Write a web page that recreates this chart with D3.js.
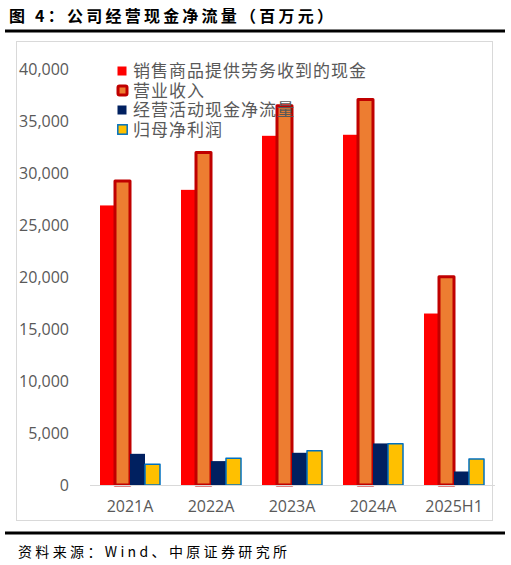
<!DOCTYPE html>
<html><head><meta charset="utf-8">
<script src="https://cdn.jsdelivr.net/npm/d3@7"></script>
<style>body{margin:0;background:#fff}svg{display:block}</style>
</head><body>
<svg id="c" width="511" height="565"></svg>
<script>
const categories = ["2021A","2022A","2023A","2024A","2025H1"];
const seriesNames = ["销售商品提供劳务收到的现金","营业收入","经营活动现金净流量","归母净利润"];
const salesCash = [26900, 28400, 33600, 33700, 16500];
const revenue = [29250, 32000, 36500, 37100, 20050];
const operatingCF = [3000, 2300, 3100, 4000, 1300];
const netProfit = [2000, 2570, 3300, 3970, 2500];
const yTicks = [0,5000,10000,15000,20000,25000,30000,35000,40000];

const seriesValues = [salesCash, revenue, operatingCF, netProfit];
const styles = [
  {fill:"#FF0000", stroke:"none", sw:0},
  {fill:"#ED7D31", stroke:"#C00000", sw:3},
  {fill:"#002060", stroke:"none", sw:0},
  {fill:"#FFC000", stroke:"#0070C0", sw:1.5}
];

const svg = d3.select("#c");
const cjk = "'Noto Sans CJK SC','Noto Sans',sans-serif";
const latin = "'Open Sans','Noto Sans',sans-serif";
const grey = "#595959";

// title
svg.append("text").attr("x",9).attr("y",22).attr("font-family",cjk).attr("font-weight","bold")
  .attr("font-size",16).attr("fill","#000").attr("textLength",324).attr("lengthAdjust","spacing")
  .text("图 4：公司经营现金净流量（百万元）");
svg.append("line").attr("x1",5).attr("x2",505).attr("y1",31).attr("y2",31).attr("stroke","#000").attr("stroke-width",3);

// frame
svg.append("rect").attr("x",16.5).attr("y",41.5).attr("width",476).attr("height",479)
  .attr("fill","none").attr("stroke","#D9D9D9").attr("stroke-width",1);

const x0 = d3.scaleBand().domain(categories).range([89.5, 494.5]).padding(0);
const groupW = 60;
const x1 = d3.scaleBand().domain(d3.range(4))
  .range([(x0.bandwidth()-groupW)/2, (x0.bandwidth()+groupW)/2]).padding(0);
const y = d3.scaleLinear().domain([0,40000]).range([485, 69.3]);

// y axis labels
const yAxis = d3.axisLeft(y).tickValues(yTicks).tickFormat(d3.format(",")).tickSize(0).tickPadding(0);
const ga = svg.append("g").attr("transform","translate(69,0)").call(yAxis);
ga.select(".domain").remove();
ga.selectAll("text").attr("font-family",latin).attr("font-size",16).attr("fill",grey);

// bars
seriesValues.forEach((vals, si) => {
  const st = styles[si];
  svg.append("g").selectAll("rect").data(vals).join("rect")
    .attr("x",(d,i)=>x0(categories[i])+x1(si))
    .attr("y",d=>y(d))
    .attr("width",x1.bandwidth())
    .attr("height",d=>y(0)-y(d))
    .attr("fill",st.fill)
    .attr("stroke",st.stroke)
    .attr("stroke-width",st.sw)
    .attr("stroke-linejoin","round");
});

// x axis
const xAxis = d3.axisBottom(x0).tickSize(0).tickPadding(16);
const gx = svg.append("g").attr("transform","translate(0,485)").call(xAxis);
gx.select(".domain").attr("stroke","#D9D9D9").attr("stroke-width",1.2);
gx.selectAll("text").attr("font-family",latin).attr("font-size",16).attr("fill",grey);

// legend
const legY = [71, 90.5, 110, 129.5];
const lg = svg.append("g");
seriesNames.forEach((n, i) => {
  const st = styles[i];
  if (i===1) {
    lg.append("rect").attr("x",118).attr("y",legY[i]-4.5).attr("width",9).attr("height",9)
      .attr("fill",st.fill).attr("stroke",st.stroke).attr("stroke-width",3).attr("rx",1.5);
  } else if (i===3) {
    lg.append("rect").attr("x",117.8).attr("y",legY[i]-4.7).attr("width",9.4).attr("height",9.4)
      .attr("fill",st.fill).attr("stroke",st.stroke).attr("stroke-width",1.5);
  } else {
    lg.append("rect").attr("x",117.5).attr("y",legY[i]-4.5).attr("width",9).attr("height",9)
      .attr("fill",st.fill);
  }
  lg.append("text").attr("x",133).attr("y",legY[i]).attr("dy","0.36em")
    .attr("font-family",cjk).attr("font-size",17).attr("letter-spacing",1)
    .attr("fill",grey).text(n);
});

// footer
svg.append("line").attr("x1",5).attr("x2",505).attr("y1",533).attr("y2",533).attr("stroke","#000").attr("stroke-width",3);
svg.append("text").attr("x",18).attr("y",557).attr("font-family",cjk)
  .attr("font-size",14).attr("fill","#000").attr("textLength",269).attr("lengthAdjust","spacing")
  .text("资料来源：Wind、中原证券研究所");
</script>
</body></html>
